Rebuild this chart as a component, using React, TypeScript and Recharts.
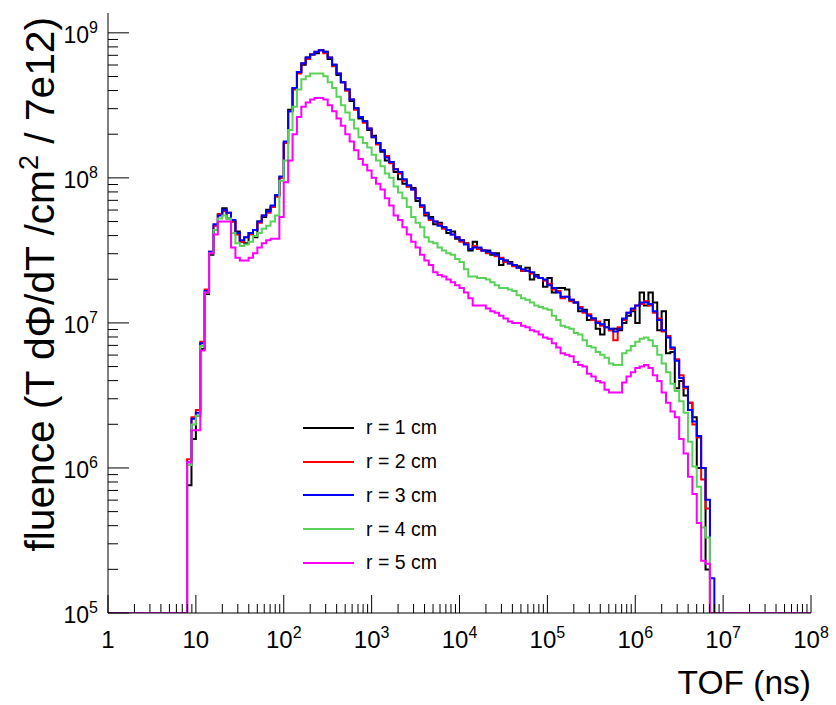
import React from 'react';
import { LineChart, Line, XAxis, YAxis, Legend, Label } from 'recharts';

const FONT = '"Liberation Sans", Arial, Helvetica, sans-serif';

// ---- histogram binning (log-uniform bins, 20 per decade, first bin starts at 10^0.9 ns)
const BINS_PER_DECADE = 20;
const FIRST_BIN = 18;
const FLOOR = 1e5; // empty / out-of-range bins are drawn at the frame bottom
const X_MIN = 1;
const X_MAX = 1e8;
const Y_MIN = 1e5;
const Y_MAX = 1.37e9;

// ---- axis tick definitions
const xDecades = [0, 1, 2, 3, 4, 5, 6, 7, 8];
const yDecades = [5, 6, 7, 8, 9];
const minorSteps = [2, 3, 4, 5, 6, 7, 8, 9];

// ---- series
const seriesKeys = ['r1', 'r2', 'r3', 'r4', 'r5'];
const seriesNames = ['r = 1 cm', 'r = 2 cm', 'r = 3 cm', 'r = 4 cm', 'r = 5 cm'];
const seriesColors = ['#000000', '#ff0000', '#0000ff', '#5ad25a', '#ff00ff'];

// log10(fluence) per bin (bins 18..137)
const r1Log = [
  5.88, 6.20, 6.36, 6.82, 7.20, 7.47, 7.64, 7.75, 7.79, 7.72,
  7.70, 7.63, 7.56, 7.55, 7.62, 7.59, 7.70, 7.73, 7.78, 7.80,
  7.88, 8.00, 8.24, 8.47, 8.62, 8.73, 8.78, 8.83, 8.85, 8.86,
  8.88, 8.87, 8.82, 8.78, 8.71, 8.66, 8.61, 8.53, 8.48, 8.41,
  8.39, 8.33, 8.29, 8.24, 8.18, 8.12, 8.11, 8.04, 7.99, 7.96,
  7.94, 7.93, 7.84, 7.81, 7.74, 7.73, 7.68, 7.69, 7.66, 7.62,
  7.63, 7.58, 7.57, 7.55, 7.50, 7.56, 7.51, 7.50, 7.50, 7.47,
  7.48, 7.40, 7.43, 7.42, 7.40, 7.39, 7.36, 7.38, 7.30, 7.33,
  7.31, 7.25, 7.31, 7.21, 7.24, 7.24, 7.23, 7.16, 7.14, 7.08,
  7.09, 7.02, 7.03, 6.96, 6.92, 7.02, 6.95, 6.96, 6.95, 7.00,
  7.05, 7.08, 7.00, 7.21, 7.12, 7.21, 7.14, 6.95, 7.08, 6.79,
  6.80, 6.55, 6.60, 6.50, 6.45, 6.35, 6.00, 6.00, 5.30, 5.00,
];
const r2Log = [
  6.06, 6.35, 6.40, 6.87, 7.23, 7.49, 7.67, 7.75, 7.77, 7.76,
  7.70, 7.61, 7.56, 7.59, 7.61, 7.64, 7.69, 7.74, 7.76, 7.80,
  7.87, 8.00, 8.24, 8.46, 8.61, 8.72, 8.79, 8.82, 8.85, 8.87,
  8.88, 8.86, 8.83, 8.77, 8.72, 8.66, 8.60, 8.54, 8.47, 8.42,
  8.38, 8.34, 8.28, 8.23, 8.19, 8.15, 8.10, 8.06, 8.03, 7.98,
  7.94, 7.92, 7.86, 7.80, 7.75, 7.71, 7.70, 7.68, 7.65, 7.64,
  7.61, 7.59, 7.56, 7.55, 7.51, 7.53, 7.51, 7.50, 7.48, 7.48,
  7.46, 7.45, 7.42, 7.41, 7.39, 7.38, 7.36, 7.36, 7.34, 7.32,
  7.31, 7.29, 7.27, 7.23, 7.22, 7.17, 7.18, 7.15, 7.14, 7.11,
  7.07, 7.06, 7.02, 7.01, 6.98, 6.97, 6.95, 6.88, 6.97, 7.02,
  7.07, 7.09, 7.12, 7.13, 7.15, 7.12, 7.07, 7.03, 6.94, 6.91,
  6.82, 6.75, 6.64, 6.55, 6.45, 6.30, 6.21, 5.92, 5.72, 5.00,
];
const r3Log = [
  6.04, 6.34, 6.38, 6.86, 7.22, 7.49, 7.68, 7.74, 7.78, 7.76,
  7.71, 7.62, 7.57, 7.59, 7.62, 7.64, 7.70, 7.74, 7.77, 7.81,
  7.88, 8.01, 8.25, 8.46, 8.62, 8.73, 8.79, 8.83, 8.85, 8.87,
  8.88, 8.87, 8.83, 8.78, 8.72, 8.66, 8.61, 8.54, 8.48, 8.42,
  8.39, 8.34, 8.28, 8.24, 8.19, 8.14, 8.11, 8.06, 8.04, 7.99,
  7.95, 7.92, 7.86, 7.81, 7.76, 7.72, 7.70, 7.67, 7.66, 7.64,
  7.61, 7.59, 7.57, 7.54, 7.51, 7.52, 7.52, 7.50, 7.49, 7.48,
  7.47, 7.44, 7.43, 7.41, 7.40, 7.38, 7.37, 7.36, 7.35, 7.32,
  7.31, 7.30, 7.26, 7.24, 7.21, 7.18, 7.18, 7.16, 7.14, 7.10,
  7.08, 7.05, 7.03, 7.00, 6.99, 6.97, 6.96, 6.94, 6.96, 7.03,
  7.07, 7.10, 7.12, 7.14, 7.14, 7.13, 7.08, 7.02, 6.95, 6.90,
  6.83, 6.74, 6.62, 6.56, 6.40, 6.32, 6.22, 6.00, 5.78, 5.24,
];
const r4Log = [
  6.02, 6.30, 6.36, 6.84, 7.21, 7.48, 7.64, 7.72, 7.74, 7.72,
  7.62, 7.55, 7.53, 7.54, 7.56, 7.60, 7.62, 7.65, 7.67, 7.70,
  7.74, 7.98, 8.12, 8.33, 8.49, 8.61, 8.68, 8.70, 8.72, 8.72,
  8.72, 8.70, 8.66, 8.62, 8.56, 8.50, 8.45, 8.40, 8.34, 8.28,
  8.24, 8.21, 8.16, 8.12, 8.08, 8.03, 8.00, 7.94, 7.90, 7.86,
  7.80, 7.73, 7.69, 7.66, 7.59, 7.56, 7.55, 7.52, 7.50, 7.48,
  7.47, 7.44, 7.42, 7.37, 7.32, 7.32, 7.31, 7.31, 7.30, 7.28,
  7.26, 7.24, 7.24, 7.23, 7.22, 7.19, 7.17, 7.16, 7.14, 7.12,
  7.11, 7.10, 7.09, 7.05, 7.02, 6.98, 6.97, 6.96, 6.93, 6.92,
  6.88, 6.84, 6.83, 6.80, 6.78, 6.76, 6.72, 6.71, 6.71, 6.79,
  6.81, 6.84, 6.87, 6.89, 6.90, 6.88, 6.84, 6.78, 6.72, 6.66,
  6.58, 6.53, 6.46, 6.38, 6.18, 6.01, 5.87, 5.59, 5.52, 5.00,
];
const r5Log = [
  6.04, 6.26, 6.26, 6.81, 7.21, 7.48, 7.61, 7.70, 7.70, 7.70,
  7.52, 7.45, 7.43, 7.43, 7.45, 7.48, 7.52, 7.55, 7.57, 7.58,
  7.58, 7.73, 7.97, 8.12, 8.30, 8.42, 8.49, 8.52, 8.54, 8.55,
  8.55, 8.54, 8.50, 8.46, 8.41, 8.36, 8.30, 8.25, 8.19, 8.13,
  8.09, 8.05, 8.00, 7.96, 7.92, 7.86, 7.81, 7.74, 7.71, 7.66,
  7.61, 7.56, 7.52, 7.47, 7.43, 7.40, 7.35, 7.33, 7.32, 7.30,
  7.28, 7.26, 7.24, 7.21, 7.17, 7.12, 7.12, 7.12, 7.10, 7.08,
  7.07, 7.05, 7.03, 7.01, 7.00, 7.00, 6.98, 6.97, 6.95, 6.94,
  6.92, 6.90, 6.89, 6.86, 6.83, 6.79, 6.78, 6.77, 6.73, 6.71,
  6.70, 6.65, 6.63, 6.60, 6.59, 6.54, 6.52, 6.52, 6.52, 6.59,
  6.63, 6.66, 6.69, 6.70, 6.71, 6.69, 6.64, 6.60, 6.52, 6.45,
  6.39, 6.35, 6.20, 6.10, 5.94, 5.82, 5.62, 5.36, 5.34, 5.00,
];

const seriesLogs = [r1Log, r2Log, r3Log, r4Log, r5Log];

// ---- table for the library (bin left edges, step-after)
const binEdge = (k: number) => Math.pow(10, k / BINS_PER_DECADE);
const floorRow = (x: number) => {
  const row: Record<string, number> = { x };
  seriesKeys.forEach((k) => (row[k] = FLOOR));
  return row;
};
const nBins = r3Log.length;
const data: Record<string, number>[] = [floorRow(X_MIN)];
for (let i = 0; i < nBins; i++) {
  const row: Record<string, number> = { x: binEdge(FIRST_BIN + i) };
  seriesKeys.forEach((k, j) => (row[k] = Math.pow(10, seriesLogs[j][i])));
  data.push(row);
}
data.push(floorRow(binEdge(FIRST_BIN + nBins)));
data.push(floorRow(X_MAX));

const makeTicks = (decades: number[], max: number) => {
  const t: number[] = [];
  decades.forEach((d) => {
    t.push(Math.pow(10, d));
    minorSteps.forEach((m) => {
      const v = m * Math.pow(10, d);
      if (v <= max) t.push(v);
    });
  });
  return t.filter((v) => v <= max);
};
const xTicks = makeTicks(xDecades, X_MAX);
const yTicks = makeTicks(yDecades, Y_MAX);

const isMajor = (v: number) => {
  const e = Math.log10(v);
  return Math.abs(e - Math.round(e)) < 1e-6;
};

const powLabel = (e: number, supDy: number) => {
  if (e === 0) return <tspan>1</tspan>;
  if (e === 1) return <tspan>10</tspan>;
  return [
    <tspan key="b">10</tspan>,
    <tspan key="s" dy={supDy} fontSize={16}>
      {String(e)}
    </tspan>,
  ];
};

const XTickBottom = (p: any) => {
  const { x, y, payload } = p;
  const major = isMajor(payload.value);
  const len = major ? 18 : 9;
  return (
    <g>
      <line x1={x} x2={x} y1={y} y2={y - len} stroke="#000" strokeWidth={1} />
      {major && (
        <text x={x} y={y + 35} textAnchor="middle" fontFamily={FONT} fontSize={24} fill="#000">
          {powLabel(Math.round(Math.log10(payload.value)), -10)}
        </text>
      )}
    </g>
  );
};

const XTickTop = (p: any) => {
  const { x, y, payload } = p;
  const len = isMajor(payload.value) ? 18 : 9;
  return <line x1={x} x2={x} y1={y} y2={y + len} stroke="#000" strokeWidth={1} />;
};

const YTickLeft = (p: any) => {
  const { x, y, payload } = p;
  const major = isMajor(payload.value);
  const len = major ? 21 : 10;
  return (
    <g>
      <line x1={x} x2={x + len} y1={y} y2={y} stroke="#000" strokeWidth={1} />
      {major && (
        <text x={x - 10} y={y + 10} textAnchor="end" fontFamily={FONT} fontSize={23} fill="#000">
          {powLabel(Math.round(Math.log10(payload.value)), -10)}
        </text>
      )}
    </g>
  );
};

const YTickRight = (p: any) => {
  const { x, y, payload } = p;
  const len = isMajor(payload.value) ? 21 : 10;
  return <line x1={x} x2={x - len} y1={y} y2={y} stroke="#000" strokeWidth={1} />;
};

const YTitle = () => (
  <text
    x={54}
    y={17}
    transform="rotate(-90, 54, 17)"
    textAnchor="end"
    fontFamily={FONT}
    fontSize={40.7}
    fill="#000"
  >
    <tspan>fluence (T dΦ/dT /cm</tspan>
    <tspan dy={-16} fontSize={27}>2</tspan>
    <tspan dy={16}> / 7e12)</tspan>
  </text>
);

const XTitle = () => (
  <text x={811} y={694} textAnchor="end" fontFamily={FONT} fontSize={33.5} fill="#000">
    TOF (ns)
  </text>
);

const renderLegend = () => (
  <div style={{ fontFamily: FONT, fontSize: 19.5, color: '#000' }}>
    {seriesNames.map((n, i) => (
      <div key={n} style={{ height: 33.75, display: 'flex', alignItems: 'center' }}>
        <svg width={63} height={4} style={{ display: 'block' }}>
          <line x1={0} x2={51} y1={2} y2={2} stroke={seriesColors[i]} strokeWidth={2} />
        </svg>
        <span>{n}</span>
      </div>
    ))}
  </div>
);

export default function App() {
  return (
    <div style={{ position: 'absolute', left: 0, top: 0, background: '#fff' }}>
      <LineChart width={836} height={705} data={data} margin={{ top: 13, right: 25, bottom: 0, left: 0 }}>
        <XAxis
          xAxisId="b"
          dataKey="x"
          type="number"
          scale="log"
          domain={[X_MIN, X_MAX]}
          allowDataOverflow
          ticks={xTicks}
          interval={0}
          tickSize={0}
          tickMargin={0}
          tickLine={false}
          tick={(p: any) => <XTickBottom {...p} />}
          height={92}
          axisLine={{ stroke: '#000', strokeWidth: 1 }}
        >
          <Label content={() => <XTitle />} />
        </XAxis>
        <XAxis
          xAxisId="t"
          orientation="top"
          dataKey="x"
          type="number"
          scale="log"
          domain={[X_MIN, X_MAX]}
          allowDataOverflow
          ticks={xTicks}
          interval={0}
          tickSize={0}
          tickMargin={0}
          tickLine={false}
          tick={(p: any) => <XTickTop {...p} />}
          height={0}
          axisLine={{ stroke: '#000', strokeWidth: 1 }}
        />
        <YAxis
          yAxisId="l"
          type="number"
          scale="log"
          domain={[Y_MIN, Y_MAX]}
          allowDataOverflow
          ticks={yTicks}
          interval={0}
          tickSize={0}
          tickMargin={0}
          tickLine={false}
          tick={(p: any) => <YTickLeft {...p} />}
          width={108}
          axisLine={{ stroke: '#000', strokeWidth: 1 }}
        >
          <Label content={() => <YTitle />} />
        </YAxis>
        <YAxis
          yAxisId="r"
          orientation="right"
          type="number"
          scale="log"
          domain={[Y_MIN, Y_MAX]}
          allowDataOverflow
          ticks={yTicks}
          interval={0}
          tickSize={0}
          tickMargin={0}
          tickLine={false}
          tick={(p: any) => <YTickRight {...p} />}
          width={0}
          axisLine={{ stroke: '#000', strokeWidth: 1 }}
        />
        <Legend
          layout="vertical"
          align="center"
          verticalAlign="middle"
          content={renderLegend}
          wrapperStyle={{ left: 303, top: 411, width: 200, height: 170 }}
        />
        {seriesKeys.map((k, i) => (
          <Line
            key={k}
            xAxisId="b"
            yAxisId="l"
            dataKey={k}
            name={seriesNames[i]}
            type="stepAfter"
            stroke={seriesColors[i]}
            strokeWidth={2}
            strokeLinejoin="miter"
            strokeLinecap="butt"
            dot={false}
            activeDot={false}
            isAnimationActive={false}
          />
        ))}
      </LineChart>
    </div>
  );
}
